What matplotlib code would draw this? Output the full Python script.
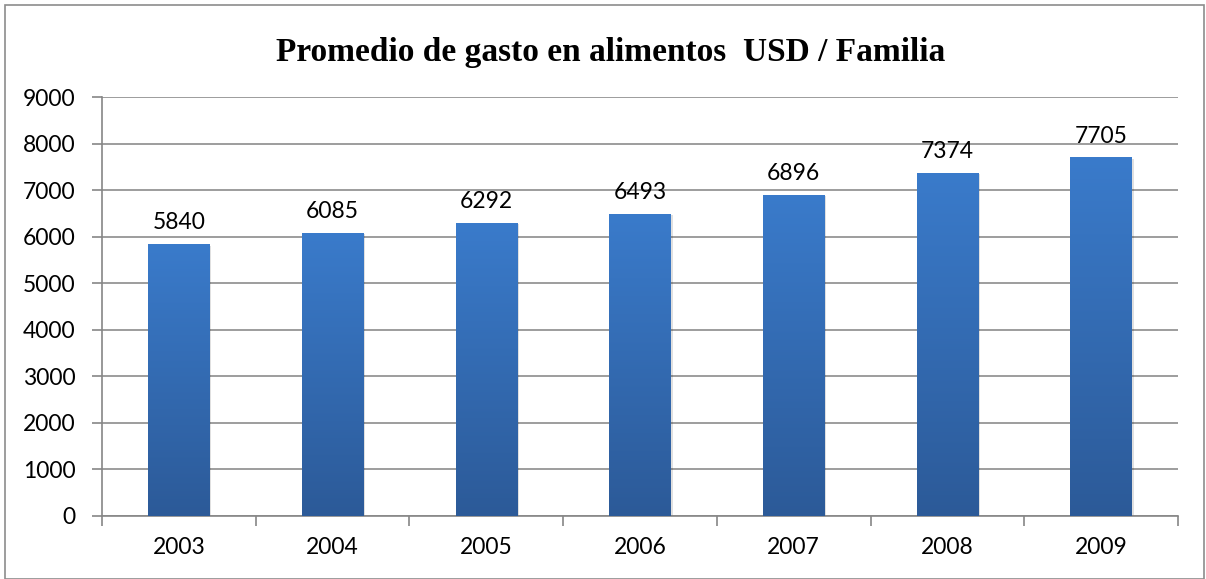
import matplotlib
matplotlib.use("Agg")
import matplotlib.pyplot as plt
import numpy as np
from matplotlib.patches import Rectangle
from matplotlib.colors import LinearSegmentedColormap

years = ["2003", "2004", "2005", "2006", "2007", "2008", "2009"]
values = [5840, 6085, 6292, 6493, 6896, 7374, 7705]
yticks = [0, 1000, 2000, 3000, 4000, 5000, 6000, 7000, 8000, 9000]
title = "Promedio de gasto en alimentos  USD / Familia"

fig = plt.figure(figsize=(12.06, 5.79), dpi=100)
W, H = 1206, 579
ax = fig.add_axes([102 / W, 1 - 516 / H, (1178 - 102) / W, (516 - 97) / H])

# figure border
fig.patches.append(Rectangle((5 / W, 0.5 / H), (1204 - 5) / W, (574 - 0.5) / H,
                             transform=fig.transFigure, fill=False,
                             edgecolor="#8c8c8c", linewidth=1.2))

n = len(years)
cmap = LinearSegmentedColormap.from_list("g", ["#2c5a98", "#3a7bcb"])
grad = np.linspace(0, 1, 256).reshape(-1, 1)
bw = 0.40
for i, v in enumerate(values):
    x0 = i + 0.5 - bw / 2
    ax.add_patch(Rectangle((x0 + 0.012, -30), bw, v, facecolor="#000000", alpha=0.12,
                           edgecolor="none", zorder=2))
    im = ax.imshow(grad, extent=(x0, x0 + bw, 0, v), origin="lower", cmap=cmap,
                   aspect="auto", zorder=3)
    clip = Rectangle((x0, 0), bw, v, transform=ax.transData)
    im.set_clip_path(clip)
    ax.text(i + 0.5, v + 230, f"{v}", ha="center", va="bottom", fontsize=16.5,
            family="Lato", color="#000000", zorder=4)
ax.set_xlim(0, n)
ax.set_ylim(0, 9000)

ax.set_yticks(yticks)
ax.set_yticklabels([str(t) for t in yticks], family="Lato", fontsize=16.5)
ax.set_xticks(np.arange(n + 1))
ax.set_xticklabels([])
ax.set_xticks(np.arange(n) + 0.5, minor=True)
ax.set_xticklabels(years, minor=True, family="Lato", fontsize=16.5)
ax.tick_params(axis="x", which="minor", length=0, pad=15)
ax.tick_params(axis="x", which="major", length=7, color="#868686", width=1.2)
ax.tick_params(axis="y", length=7, color="#868686", width=1.2, pad=12)
ax.grid(axis="y", color="#8c8c8c", linewidth=1.2, zorder=0)
ax.set_axisbelow(True)
for s in ["top", "right"]:
    ax.spines[s].set_visible(False)
for s in ["left", "bottom"]:
    ax.spines[s].set_color("#868686")
    ax.spines[s].set_linewidth(1.2)

fig.text(611 / W, 1 - 52 / H, title, ha="center", va="center", fontsize=24,
         fontweight="bold", family="Liberation Serif")

fig.savefig("out.png", dpi=100)
